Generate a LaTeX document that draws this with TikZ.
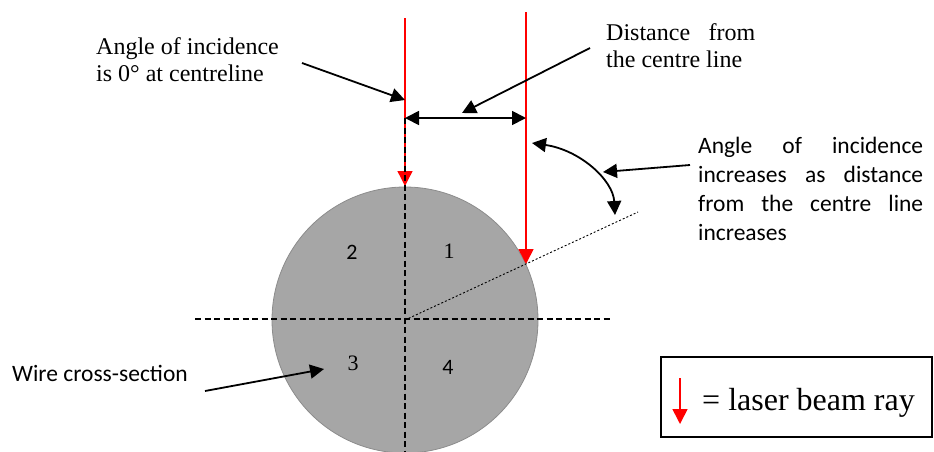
\documentclass[tikz,border=0pt]{standalone}
\usepackage{fontspec}
\setmainfont{Liberation Serif}
\newfontfamily\calibri{Carlito}
\usetikzlibrary{arrows.meta}
\definecolor{wiregray}{HTML}{A6A6A6}
\definecolor{wireedge}{HTML}{8C8C8C}
\definecolor{laser}{HTML}{FF0000}
\tikzset{
  ray/.style={draw=laser, line width=1.6pt, -{Triangle[length=15pt,width=15pt]}},
  pointer/.style={draw=black, line width=1.8pt, -{Triangle[length=14pt,width=14pt]}},
  axisline/.style={draw=black, line width=1.1pt, dash pattern=on 6pt off 3.5pt},
  radline/.style={draw=black, line width=0.9pt, dash pattern=on 2pt off 2pt},
  timestext/.style={inner sep=0pt, anchor=base west, align=left, font=\fontsize{24}{27}\selectfont},
  calibritext/.style={inner sep=0pt, anchor=base west, align=left, font=\calibri\fontsize{23.5}{29}\selectfont},
  numlabel/.style={inner sep=0pt}
}
\begin{document}
\begin{tikzpicture}[x=1pt,y=-1pt]
\useasboundingbox (0,0) rectangle (934,451);
% wire cross-section
\node[circle, minimum size=266pt, inner sep=0pt, fill=wiregray, draw=wireedge, line width=0.8pt] (wire) at (405,320) {};
% coordinates
\coordinate (l0) at (405,18);
\coordinate (l1) at (405,186);
\coordinate (r0) at (526,12);
\coordinate (r1) at (526,264);
\coordinate (dl) at (405,118);
\coordinate (dr) at (526,118);
\coordinate (vb) at (405,451);
\coordinate (hl) at (195,319);
\coordinate (hr) at (613,319);
\coordinate (rad) at (638,212);
\coordinate (arcA) at (532,143);
\coordinate (arcB) at (615,215);
% laser rays
\draw[ray, line width=1.3pt] (l0) -- (l1);
\draw[ray] (r0) -- (r1);
% centre lines
\draw[axisline] (dl) -- (vb);
\draw[axisline] (hl) -- (hr);
\draw[radline] (wire.center) -- (rad);
% distance arrow
\draw[pointer, {Triangle[length=14pt,width=14pt]}-{Triangle[length=14pt,width=14pt]}] (dl) -- (dr);
% angle arc
\draw[pointer, {Triangle[length=14pt,width=14pt]}-{Triangle[length=14pt,width=14pt]}] (arcA) .. controls (580,150) and (613,180) .. (arcB);
% quadrant numbers
\node[numlabel, font=\calibri\fontsize{22}{24}\selectfont] (q2) at (352,252) {2};
\node[numlabel, font=\fontsize{22}{24}\selectfont] (q1) at (449,251) {1};
\node[numlabel, font=\fontsize{22}{24}\selectfont] (q3) at (353,363) {3};
\node[numlabel, font=\calibri\fontsize{22}{24}\selectfont] (q4) at (448,367) {4};
% texts (base anchor = baseline of last line)
\node[timestext] (tzero) at (96,81) {Angle of incidence\\is 0° at centreline};
\node[timestext] (tdist) at (606,67) {\makebox[149pt][s]{Distance from}\\the centre line};
\node[calibritext] (tinc) at (698,240) {\makebox[225pt][s]{Angle of incidence}\\\makebox[225pt][s]{increases as distance}\\\makebox[225pt][s]{from the centre line}\\increases};
\node[calibritext] (twire) at (12,381) {Wire cross-section};
% pointers
\coordinate (pz0) at (302,63);
\coordinate (pz1) at (405,100);
\coordinate (pd0) at (590,48);
\coordinate (pd1) at (462,113);
\coordinate (pi0) at (690,165);
\coordinate (pi1) at (603,172);
\coordinate (pw0) at (205,391);
\coordinate (pw1) at (324,369);
\draw[pointer] (pz0) -- (pz1);
\draw[pointer] (pd0) -- (pd1);
\draw[pointer] (pi0) -- (pi1);
\draw[pointer] (pw0) -- (pw1);
% legend
\node[draw=black, line width=1.5pt, minimum width=271pt, minimum height=80pt, inner sep=0pt] (legend) at (796.5,397) {};
\coordinate (lg0) at (680,378);
\coordinate (lg1) at (680,424);
\draw[ray] (lg0) -- (lg1);
\node[inner sep=0pt, anchor=base west, font=\fontsize{32}{36}\selectfont] (lgtext) at (702,410) {= laser beam ray};
\end{tikzpicture}
\end{document}
